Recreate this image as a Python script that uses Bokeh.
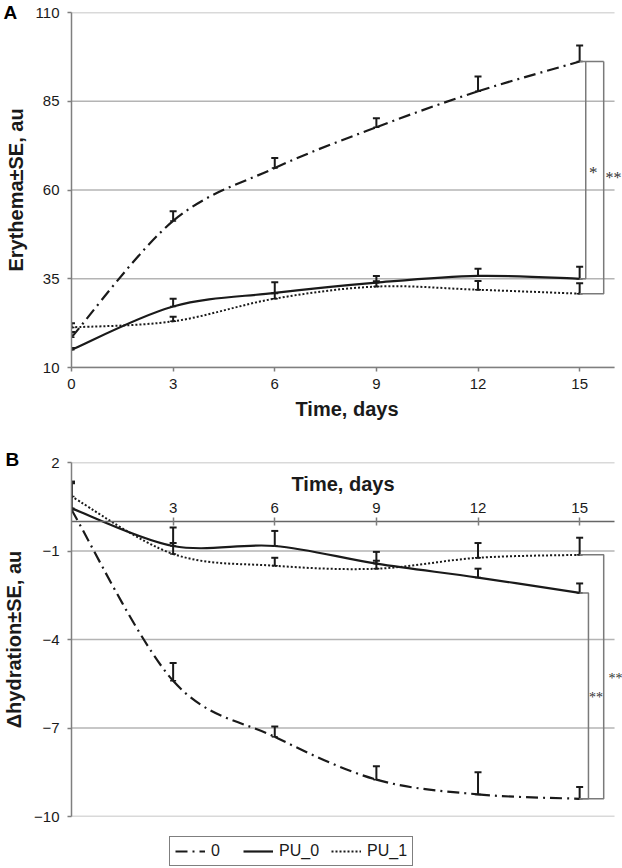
import numpy as np
from bokeh.plotting import figure
from bokeh.models import (ColumnDataSource, Whisker, TeeHead, Legend, LegendItem, Label,
                          FixedTicker, Range1d, Title)
from bokeh.layouts import column
from bokeh.embed import file_html
from bokeh.resources import INLINE
from bokeh.core.properties import value

# ---------------- data ----------------
days = [0, 3, 6, 9, 12, 15]
series_names = ["0", "PU_0", "PU_1"]

ery_0 = [18.5, 51.3, 66.2, 77.7, 87.8, 96.2]
ery_0_se = [1.5, 2.7, 2.8, 2.5, 4.2, 4.5]
ery_pu0 = [15.0, 27.2, 31.0, 33.9, 35.8, 35.0]
ery_pu0_se = [0.5, 2.2, 3.0, 1.9, 2.0, 3.4]
ery_pu1 = [21.3, 23.0, 29.4, 32.8, 31.9, 30.8]
ery_pu1_se = [1.2, 1.3, 1.5, 1.5, 2.5, 2.9]

hyd_0 = [0.4, -5.4, -7.3, -8.75, -9.25, -9.4]
hyd_0_se = [0.9, 0.6, 0.35, 0.45, 0.75, 0.4]
hyd_pu0 = [0.45, -0.83, -0.83, -1.43, -1.9, -2.42]
hyd_pu0_se = [0.9, 0.63, 0.51, 0.4, 0.3, 0.32]
hyd_pu1 = [0.85, -1.1, -1.5, -1.6, -1.23, -1.13]
hyd_pu1_se = [0.5, 0.37, 0.27, 0.27, 0.5, 0.58]

ery_ticks = [10, 35, 60, 85, 110]
hyd_ticks = [2, -1, -4, -7, -10]
day_ticks_a = [0, 3, 6, 9, 12, 15]
day_ticks_b = [3, 6, 9, 12, 15]
hyd_tick_labels = {2: "2", -1: "\u22121", -4: "\u22124", -7: "\u22127", -10: "\u221210"}
panel_letters = ["A", "B"]

# ---------------- styles ----------------
FONT = "Liberation Sans"
SERIF = "Liberation Serif"
INK = "#1a1a1a"
AXIS = "#7f7f7f"
GRID = "#b4b4b4"
BRACKET = "#7a7a7a"
STAR = "#333333"
STYLES = {
    "0": dict(line_dash="12 5 2 5", line_width=2.2),
    "PU_0": dict(line_dash="solid", line_width=2.2),
    "PU_1": dict(line_dash="2 2", line_width=2.0),
}
X_END = 16.265      # frame reaches the right edge of the page
X_AXIS_END = 16.03  # axis line and grid stop where those of the original stop


def smooth(xs, ys):
    """Catmull-Rom style cubic Bezier segments through the data points."""
    x = np.asarray(xs, float)
    y = np.asarray(ys, float)
    xp = np.concatenate([[x[0]], x, [x[-1]]])
    yp = np.concatenate([[y[0]], y, [y[-1]]])
    i = np.arange(len(x) - 1)
    return dict(
        x0=x[:-1], y0=y[:-1], x1=x[1:], y1=y[1:],
        cx0=x[i] + (xp[i + 2] - xp[i]) / 6.0,
        cy0=y[i] + (yp[i + 2] - yp[i]) / 6.0,
        cx1=x[i + 1] - (xp[i + 3] - xp[i + 1]) / 6.0,
        cy1=y[i + 1] - (yp[i + 3] - yp[i + 1]) / 6.0,
    )


def add_series(p, name, vals, se):
    st = STYLES[name]
    p.bezier(source=ColumnDataSource(smooth(days, vals)), line_color=INK,
             line_width=st["line_width"], line_dash=st["line_dash"])
    src = ColumnDataSource(dict(x=days, l=vals,
                                u=[v + s for v, s in zip(vals, se)]))
    p.add_layout(Whisker(base="x", lower="l", upper="u", source=src,
                         line_color=INK, line_width=2,
                         upper_head=TeeHead(size=7, line_width=2, line_color=INK),
                         lower_head=TeeHead(size=6, line_width=1.5, line_color=INK)))


def style_axes(p, grid_ticks):
    for ax in (p.xaxis[0], p.yaxis[0]):
        ax.axis_line_color = AXIS
        ax.axis_line_width = 1.5
        ax.major_tick_line_color = AXIS
        ax.major_tick_line_width = 1.5
        ax.minor_tick_line_color = None
        ax.major_tick_in = 0
        ax.major_tick_out = 4
        ax.major_label_text_font = FONT
        ax.major_label_text_font_size = "15px"
        ax.major_label_text_color = INK
        ax.axis_label_text_font = FONT
        ax.axis_label_text_font_size = "20px"
        ax.axis_label_text_font_style = "bold"
        ax.axis_label_text_color = INK
    p.xaxis.bounds = (0, X_AXIS_END)
    p.xgrid.visible = False
    p.ygrid.visible = False
    # horizontal grid lines at the value ticks, stopping at the axis end
    p.segment(x0=[0] * len(grid_ticks), x1=[X_AXIS_END] * len(grid_ticks),
              y0=grid_ticks, y1=grid_ticks, line_color=GRID, line_width=1.3,
              level="underlay")
    p.outline_line_color = None
    p.background_fill_color = "white"
    p.border_fill_color = "white"


def letter_title(letter, standoff, offset):
    return Title(text=letter, align="left", offset=offset, standoff=standoff,
                 text_font=FONT, text_font_size="19px", text_font_style="bold",
                 text_color="black", vertical_align="bottom")


# ---------------- panel A ----------------
pA = figure(width=622, height=440, x_range=Range1d(0, X_END), y_range=Range1d(10, 110),
            output_backend="svg", toolbar_location=None,
            min_border_left=69, min_border_right=0, min_border_top=12, min_border_bottom=73)
style_axes(pA, ery_ticks)
pA.xaxis.ticker = FixedTicker(ticks=day_ticks_a)
pA.yaxis.ticker = FixedTicker(ticks=ery_ticks)
pA.xaxis.axis_label = "Time, days"
pA.yaxis.axis_label = "Erythema\u00b1SE, au"
pA.xaxis.major_label_standoff = 7
pA.xaxis.axis_label_standoff = 6
pA.yaxis.major_label_standoff = 8
pA.yaxis.axis_label_standoff = 6

for name, vals, se in zip(series_names, [ery_0, ery_pu0, ery_pu1],
                          [ery_0_se, ery_pu0_se, ery_pu1_se]):
    add_series(pA, name, vals, se)

# significance brackets A
xa_in, xa_out = 15.18, 15.71
pA.multi_line(
    xs=[[days[-1], xa_out], [days[-1], xa_in, xa_in], [xa_out, xa_out, days[-1]]],
    ys=[[ery_0[-1], ery_0[-1]], [ery_pu0[-1], ery_pu0[-1], ery_0[-1]],
        [ery_0[-1], ery_pu1[-1], ery_pu1[-1]]],
    line_color=BRACKET, line_width=1.5)
pA.add_layout(Label(x=15.40, y=64.8, text="*", text_font=SERIF, text_font_size="17px",
                    text_color=STAR, text_align="center", text_baseline="middle"))
pA.add_layout(Label(x=16.0, y=63.4, text="**", text_font=SERIF, text_font_size="16px",
                    text_color=STAR, text_align="center", text_baseline="middle"))
pA.add_layout(letter_title(panel_letters[0], -21, -68), "above")

# ---------------- panel B ----------------
pB = figure(width=622, height=386, x_range=Range1d(0, X_END), y_range=Range1d(-10, 2),
            output_backend="svg", toolbar_location=None, x_axis_location="above",
            min_border_left=69, min_border_right=0, min_border_top=22, min_border_bottom=10)
style_axes(pB, hyd_ticks)
pB.xaxis.fixed_location = 0
pB.xaxis.ticker = FixedTicker(ticks=day_ticks_b)
pB.xaxis.major_tick_in = 4
pB.xaxis.major_tick_out = 4
pB.xaxis.axis_line_color = "#666666"
pB.xaxis.major_label_standoff = 5
pB.xaxis.axis_label_standoff = 5
pB.xaxis.axis_label = "Time, days"
pB.yaxis.ticker = FixedTicker(ticks=hyd_ticks)
pB.yaxis.major_label_overrides = hyd_tick_labels
pB.yaxis.axis_label = "\u0394hydration\u00b1SE, au"
pB.yaxis.major_label_standoff = 8
pB.yaxis.axis_label_standoff = 6

for name, vals, se in zip(series_names, [hyd_0, hyd_pu0, hyd_pu1],
                          [hyd_0_se, hyd_pu0_se, hyd_pu1_se]):
    add_series(pB, name, vals, se)

xb_in, xb_out = 15.26, 15.71
pB.multi_line(
    xs=[[days[-1], xb_in, xb_in, days[-1]], [days[-1], xb_out, xb_out, days[-1]]],
    ys=[[hyd_pu0[-1], hyd_pu0[-1], hyd_0[-1], hyd_0[-1]],
        [hyd_pu1[-1], hyd_pu1[-1], hyd_0[-1], hyd_0[-1]]],
    line_color=BRACKET, line_width=1.5)
pB.add_layout(Label(x=15.48, y=-5.96, text="**", text_font=SERIF, text_font_size="14px",
                    text_color=STAR, text_align="center", text_baseline="middle"))
pB.add_layout(Label(x=16.06, y=-5.32, text="**", text_font=SERIF, text_font_size="14px",
                    text_color=STAR, text_align="center", text_baseline="middle"))
pB.add_layout(letter_title(panel_letters[1], -14, -66), "above")

# ---------------- legend strip ----------------
pL = figure(width=622, height=42, x_range=Range1d(0, 1), y_range=Range1d(0, 1),
            output_backend="svg", toolbar_location=None,
            x_axis_location=None, y_axis_location=None,
            min_border_left=0, min_border_right=0, min_border_top=0, min_border_bottom=0)
pL.grid.visible = False
pL.outline_line_color = None
items = []
for name in series_names:
    st = STYLES[name]
    # placeholder renderer (no visible data) that only carries the line style
    r = pL.line(x=np.array([np.nan]), y=np.array([np.nan]), line_color=INK,
                line_width=st["line_width"], line_dash=st["line_dash"])
    items.append(LegendItem(label=value(name), renderers=[r]))
legend = Legend(items=items, location=(98, 2), orientation="horizontal",
                glyph_width=30, glyph_height=16, label_standoff=6, spacing=12,
                padding=5, margin=0, border_line_color="black", border_line_width=1,
                label_text_font=FONT, label_text_font_size="16px", label_text_color=INK,
                background_fill_color="white", background_fill_alpha=1.0)
pL.add_layout(legend)

layout = column(pA, pB, pL)
open("out.html", "w").write(file_html(layout, INLINE))
